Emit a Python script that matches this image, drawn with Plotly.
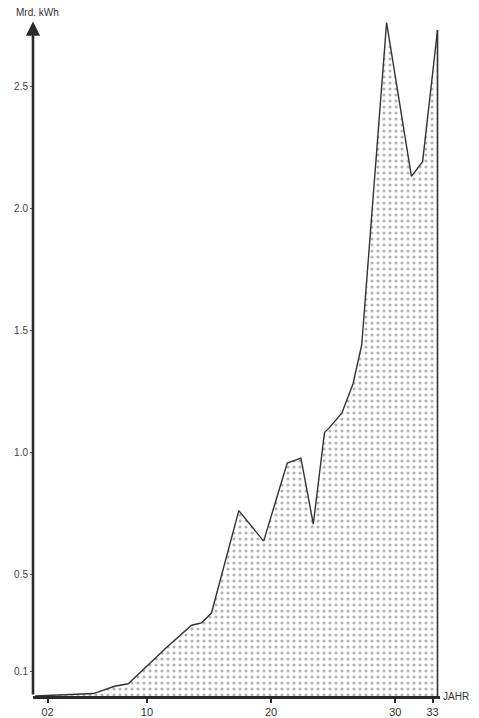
import plotly.graph_objects as go

# Data (year, billion kWh)
years = [1901.0, 1905.7, 1907.4, 1908.5, 1911.6, 1913.6, 1914.4, 1915.2,
         1917.4, 1919.4, 1921.3, 1922.4, 1923.4, 1924.3, 1924.7, 1925.7,
         1926.6, 1927.3, 1929.3, 1931.3, 1932.2, 1933.4]
values = [0.0, 0.01, 0.04, 0.05, 0.20, 0.29, 0.30, 0.34,
          0.76, 0.635, 0.955, 0.975, 0.705, 1.08, 1.10, 1.16,
          1.28, 1.44, 2.76, 2.13, 2.19, 2.73]

x_tick_vals = [1902, 1910, 1920, 1930, 1933]
x_tick_text = ["02", "10", "20", "30", "33"]
y_tick_vals = [0.1, 0.5, 1.0, 1.5, 2.0, 2.5]
y_tick_text = ["0.1", "0.5", "1.0", "1.5", "2.0", "2.5"]

FONT = "Liberation Sans, Arial, sans-serif"
INK = "#2a2a2a"

fig = go.Figure()
fig.add_trace(go.Scatter(
    x=years, y=values, mode="lines",
    line=dict(color="#333333", width=1.4),
    fill="tozeroy", fillcolor="white",
    fillpattern=dict(shape=".", fgcolor="#666666", bgcolor="white",
                     size=6, solidity=0.22),
    hoverinfo="skip", showlegend=False,
))

# right closing edge of the area
fig.add_shape(type="line", xref="x", yref="y",
              x0=years[-1], x1=years[-1], y0=0, y1=values[-1],
              line=dict(color="#333333", width=1.6))

x0 = 1900.83
# y axis with arrow
fig.add_annotation(x=x0, y=2.765, ax=x0, ay=0, xref="x", yref="y",
                   axref="x", ayref="y", text="", showarrow=True,
                   arrowhead=2, arrowsize=1.1, arrowwidth=2.6, arrowcolor=INK)

fig.add_annotation(x=0.01, y=0.993, xref="paper", yref="paper",
                   text="Mrd. kWh", showarrow=False,
                   font=dict(family=FONT, size=10, color="#333"),
                   xanchor="center", yanchor="middle")
fig.add_annotation(x=1.04, y=0.0, xref="paper", yref="paper",
                   text="JAHR", showarrow=False,
                   font=dict(family=FONT, size=10, color="#333"),
                   xanchor="center", yanchor="middle")

fig.update_layout(
    width=463, height=710,
    margin=dict(l=25, r=31, t=0, b=22, autoexpand=False),
    paper_bgcolor="white", plot_bgcolor="white",
    font=dict(family=FONT, color="#333"),
    xaxis=dict(range=[x0, 1933.6], showgrid=False, zeroline=False,
               automargin=False,
               showline=True, linewidth=3, linecolor=INK,
               tickmode="array", tickvals=x_tick_vals, ticktext=x_tick_text,
               ticks="outside", ticklen=4, tickwidth=1.5, tickcolor=INK,
               tickfont=dict(size=11, color="#333")),
    yaxis=dict(range=[0, 2.82], showgrid=False, zeroline=False,
               automargin=False, showline=False,
               tickmode="array", tickvals=y_tick_vals, ticktext=y_tick_text,
               ticks="outside", ticklen=2, tickwidth=1, tickcolor="#555",
               tickfont=dict(size=10, color="#444")),
)

fig.write_html("out.html")
